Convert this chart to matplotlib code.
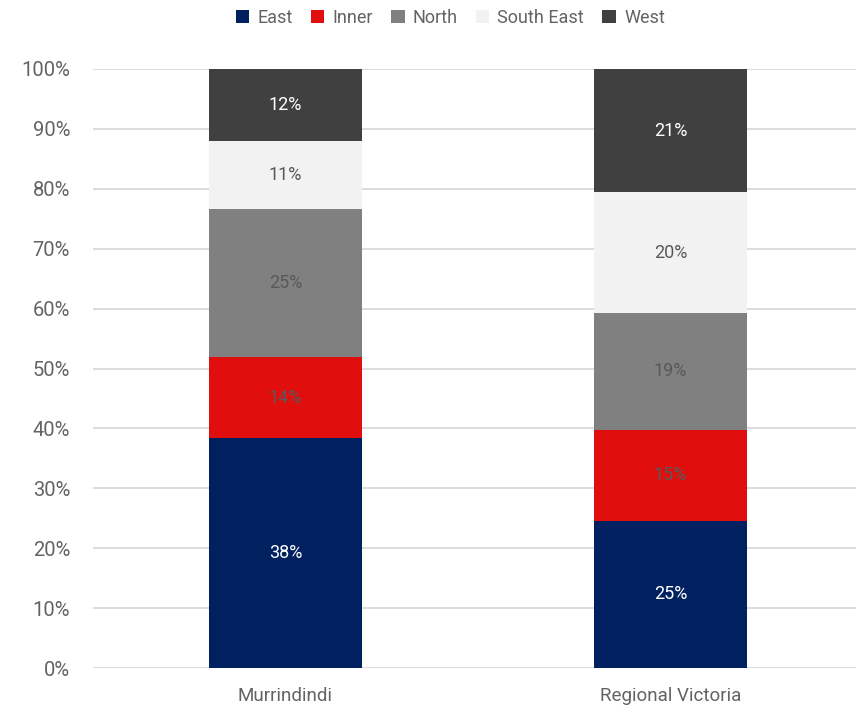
import matplotlib.pyplot as plt
import numpy as np

plt.rcParams['font.family'] = ['Roboto', 'DejaVu Sans']

areas = ['Murrindindi', 'Regional Victoria']
regions = ['East', 'Inner', 'North', 'South East', 'West']
shares = {
    'East': [38.4, 24.6],
    'Inner': [13.5, 15.2],
    'North': [24.7, 19.4],
    'South East': [11.4, 20.2],
    'West': [12.0, 20.6],
}
colors = ['#002060', '#E10E0E', '#808080', '#F2F2F2', '#404040']
text_colors = ['white', '#595959', '#595959', '#595959', 'white']

fig = plt.figure(figsize=(8.56, 7.07), dpi=100)
ax = fig.add_axes([93 / 856, 1 - 668 / 707, 763 / 856, 599 / 707])

x = np.arange(len(areas))
bottom = np.zeros(len(areas))
for reg, col, tc in zip(regions, colors, text_colors):
    vals = np.array(shares[reg])
    ax.bar(x, vals, bottom=bottom, width=0.397, color=col, label=reg, zorder=3)
    for xi, b, v in zip(x, bottom, vals):
        ax.text(xi, b + v / 2, f'{v:.0f}%', ha='center', va='center',
                color=tc, fontsize=13, zorder=4)
    bottom += vals

ax.set_ylim(0, 100)
ax.set_xlim(-0.5, 1.482)
ax.set_yticks(np.arange(0, 101, 10))
ax.set_yticklabels([f'{v}%' for v in range(0, 101, 10)])
ax.set_xticks(x)
ax.set_xticklabels(areas)
ax.tick_params(axis='both', length=0, colors='#636363')
ax.tick_params(axis='y', pad=16.5, labelsize=14.5)
ax.tick_params(axis='x', pad=14, labelsize=13.5)
ax.grid(axis='y', color='#d9d9d9', linewidth=1.3, zorder=0)
for s in ax.spines.values():
    s.set_visible(False)

fig.legend(loc='upper center', bbox_to_anchor=(0.526, 1.01), ncol=5, frameon=False,
           prop={'size': 13}, labelcolor='#636363',
           handlelength=0.75, handleheight=0.75, handletextpad=0.45, columnspacing=1.0)

fig.savefig('out.png', dpi=100)
